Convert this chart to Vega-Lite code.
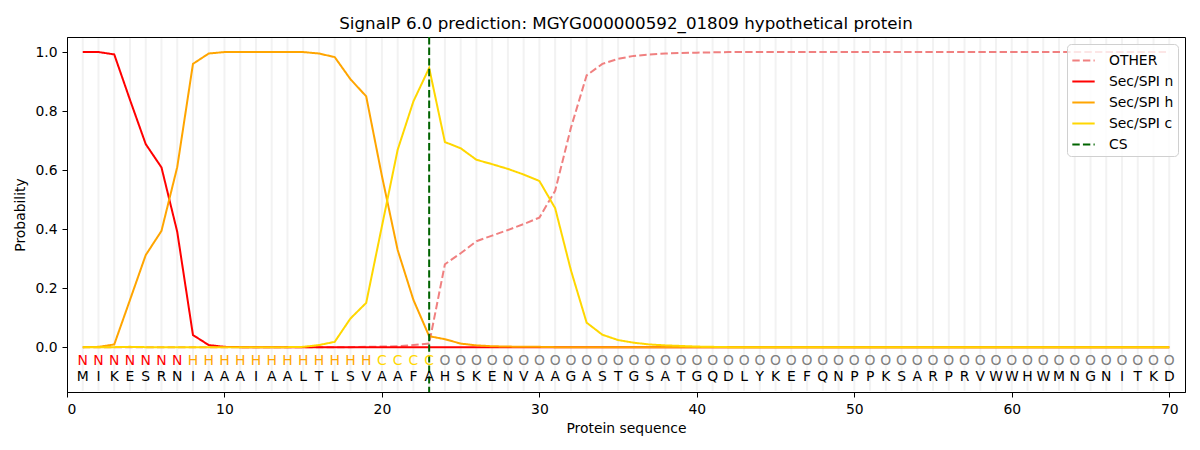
{
  "$schema": "https://vega.github.io/schema/vega-lite/v6.json",
  "width": 1118,
  "height": 355,
  "autosize": "none",
  "padding": {"left": 67, "top": 37, "right": 15, "bottom": 58},
  "title": {
    "text": "SignalP 6.0 prediction: MGYG000000592_01809 hypothetical protein",
    "font": "DejaVu Sans",
    "fontSize": 16.7,
    "fontWeight": "normal",
    "color": "black",
    "anchor": "middle",
    "offset": 3
  },
  "datasets": {
    "seq": [
      {"pos": 1, "aa": "M", "label": "N", "OTHER": 0, "Sec/SPI n": 1.0, "Sec/SPI h": 0, "Sec/SPI c": 0},
      {"pos": 2, "aa": "I", "label": "N", "OTHER": 0, "Sec/SPI n": 1.0, "Sec/SPI h": 0.001, "Sec/SPI c": 0},
      {"pos": 3, "aa": "K", "label": "N", "OTHER": 0, "Sec/SPI n": 0.992, "Sec/SPI h": 0.009, "Sec/SPI c": 0},
      {"pos": 4, "aa": "E", "label": "N", "OTHER": 0, "Sec/SPI n": 0.838, "Sec/SPI h": 0.16, "Sec/SPI c": 0.001},
      {"pos": 5, "aa": "S", "label": "N", "OTHER": 0, "Sec/SPI n": 0.688, "Sec/SPI h": 0.312, "Sec/SPI c": 0},
      {"pos": 6, "aa": "R", "label": "N", "OTHER": 0, "Sec/SPI n": 0.609, "Sec/SPI h": 0.394, "Sec/SPI c": 0},
      {"pos": 7, "aa": "N", "label": "N", "OTHER": 0, "Sec/SPI n": 0.391, "Sec/SPI h": 0.61, "Sec/SPI c": 0},
      {"pos": 8, "aa": "I", "label": "H", "OTHER": 0, "Sec/SPI n": 0.041, "Sec/SPI h": 0.96, "Sec/SPI c": 0},
      {"pos": 9, "aa": "A", "label": "H", "OTHER": 0, "Sec/SPI n": 0.007, "Sec/SPI h": 0.995, "Sec/SPI c": 0},
      {"pos": 10, "aa": "A", "label": "H", "OTHER": 0, "Sec/SPI n": 0.001, "Sec/SPI h": 1.0, "Sec/SPI c": 0},
      {"pos": 11, "aa": "A", "label": "H", "OTHER": 0, "Sec/SPI n": 0, "Sec/SPI h": 1.0, "Sec/SPI c": 0},
      {"pos": 12, "aa": "I", "label": "H", "OTHER": 0, "Sec/SPI n": 0, "Sec/SPI h": 1.0, "Sec/SPI c": 0},
      {"pos": 13, "aa": "A", "label": "H", "OTHER": 0, "Sec/SPI n": 0, "Sec/SPI h": 1.0, "Sec/SPI c": 0},
      {"pos": 14, "aa": "A", "label": "H", "OTHER": 0, "Sec/SPI n": 0, "Sec/SPI h": 1.0, "Sec/SPI c": 0},
      {"pos": 15, "aa": "L", "label": "H", "OTHER": 0, "Sec/SPI n": 0, "Sec/SPI h": 1.0, "Sec/SPI c": 0.001},
      {"pos": 16, "aa": "T", "label": "H", "OTHER": 0, "Sec/SPI n": 0, "Sec/SPI h": 0.995, "Sec/SPI c": 0.007},
      {"pos": 17, "aa": "L", "label": "H", "OTHER": 0, "Sec/SPI n": 0, "Sec/SPI h": 0.983, "Sec/SPI c": 0.018},
      {"pos": 18, "aa": "S", "label": "H", "OTHER": 0, "Sec/SPI n": 0, "Sec/SPI h": 0.908, "Sec/SPI c": 0.097},
      {"pos": 19, "aa": "V", "label": "H", "OTHER": 0.001, "Sec/SPI n": 0, "Sec/SPI h": 0.85, "Sec/SPI c": 0.15},
      {"pos": 20, "aa": "A", "label": "C", "OTHER": 0.002, "Sec/SPI n": 0, "Sec/SPI h": 0.58, "Sec/SPI c": 0.41},
      {"pos": 21, "aa": "A", "label": "C", "OTHER": 0.003, "Sec/SPI n": 0, "Sec/SPI h": 0.329, "Sec/SPI c": 0.669},
      {"pos": 22, "aa": "F", "label": "C", "OTHER": 0.007, "Sec/SPI n": 0, "Sec/SPI h": 0.16, "Sec/SPI c": 0.833},
      {"pos": 23, "aa": "A", "label": "C", "OTHER": 0.012, "Sec/SPI n": 0, "Sec/SPI h": 0.037, "Sec/SPI c": 0.946},
      {"pos": 24, "aa": "H", "label": "O", "OTHER": 0.281, "Sec/SPI n": 0, "Sec/SPI h": 0.027, "Sec/SPI c": 0.695},
      {"pos": 25, "aa": "S", "label": "O", "OTHER": 0.318, "Sec/SPI n": 0, "Sec/SPI h": 0.012, "Sec/SPI c": 0.674},
      {"pos": 26, "aa": "K", "label": "O", "OTHER": 0.359, "Sec/SPI n": 0, "Sec/SPI h": 0.006, "Sec/SPI c": 0.635},
      {"pos": 27, "aa": "E", "label": "O", "OTHER": 0.378, "Sec/SPI n": 0, "Sec/SPI h": 0.003, "Sec/SPI c": 0.62},
      {"pos": 28, "aa": "N", "label": "O", "OTHER": 0.397, "Sec/SPI n": 0, "Sec/SPI h": 0.002, "Sec/SPI c": 0.604},
      {"pos": 29, "aa": "V", "label": "O", "OTHER": 0.417, "Sec/SPI n": 0, "Sec/SPI h": 0.001, "Sec/SPI c": 0.585},
      {"pos": 30, "aa": "A", "label": "O", "OTHER": 0.439, "Sec/SPI n": 0, "Sec/SPI h": 0.001, "Sec/SPI c": 0.563},
      {"pos": 31, "aa": "A", "label": "O", "OTHER": 0.53, "Sec/SPI n": 0, "Sec/SPI h": 0, "Sec/SPI c": 0.471},
      {"pos": 32, "aa": "G", "label": "O", "OTHER": 0.743, "Sec/SPI n": 0, "Sec/SPI h": 0, "Sec/SPI c": 0.261},
      {"pos": 33, "aa": "A", "label": "O", "OTHER": 0.921, "Sec/SPI n": 0, "Sec/SPI h": 0, "Sec/SPI c": 0.083},
      {"pos": 34, "aa": "S", "label": "O", "OTHER": 0.96, "Sec/SPI n": 0, "Sec/SPI h": 0, "Sec/SPI c": 0.042},
      {"pos": 35, "aa": "T", "label": "O", "OTHER": 0.977, "Sec/SPI n": 0, "Sec/SPI h": 0, "Sec/SPI c": 0.024},
      {"pos": 36, "aa": "G", "label": "O", "OTHER": 0.987, "Sec/SPI n": 0, "Sec/SPI h": 0, "Sec/SPI c": 0.015},
      {"pos": 37, "aa": "S", "label": "O", "OTHER": 0.992, "Sec/SPI n": 0, "Sec/SPI h": 0, "Sec/SPI c": 0.009},
      {"pos": 38, "aa": "A", "label": "O", "OTHER": 0.995, "Sec/SPI n": 0, "Sec/SPI h": 0, "Sec/SPI c": 0.006},
      {"pos": 39, "aa": "T", "label": "O", "OTHER": 0.997, "Sec/SPI n": 0, "Sec/SPI h": 0, "Sec/SPI c": 0.004},
      {"pos": 40, "aa": "G", "label": "O", "OTHER": 0.998, "Sec/SPI n": 0, "Sec/SPI h": 0, "Sec/SPI c": 0.002},
      {"pos": 41, "aa": "Q", "label": "O", "OTHER": 0.999, "Sec/SPI n": 0, "Sec/SPI h": 0, "Sec/SPI c": 0.001},
      {"pos": 42, "aa": "D", "label": "O", "OTHER": 1.0, "Sec/SPI n": 0, "Sec/SPI h": 0, "Sec/SPI c": 0},
      {"pos": 43, "aa": "L", "label": "O", "OTHER": 1.0, "Sec/SPI n": 0, "Sec/SPI h": 0, "Sec/SPI c": 0},
      {"pos": 44, "aa": "Y", "label": "O", "OTHER": 1.0, "Sec/SPI n": 0, "Sec/SPI h": 0, "Sec/SPI c": 0},
      {"pos": 45, "aa": "K", "label": "O", "OTHER": 1.0, "Sec/SPI n": 0, "Sec/SPI h": 0, "Sec/SPI c": 0},
      {"pos": 46, "aa": "E", "label": "O", "OTHER": 1.0, "Sec/SPI n": 0, "Sec/SPI h": 0, "Sec/SPI c": 0},
      {"pos": 47, "aa": "F", "label": "O", "OTHER": 1.0, "Sec/SPI n": 0, "Sec/SPI h": 0, "Sec/SPI c": 0},
      {"pos": 48, "aa": "Q", "label": "O", "OTHER": 1.0, "Sec/SPI n": 0, "Sec/SPI h": 0, "Sec/SPI c": 0},
      {"pos": 49, "aa": "N", "label": "O", "OTHER": 1.0, "Sec/SPI n": 0, "Sec/SPI h": 0, "Sec/SPI c": 0},
      {"pos": 50, "aa": "P", "label": "O", "OTHER": 1.0, "Sec/SPI n": 0, "Sec/SPI h": 0, "Sec/SPI c": 0},
      {"pos": 51, "aa": "P", "label": "O", "OTHER": 1.0, "Sec/SPI n": 0, "Sec/SPI h": 0, "Sec/SPI c": 0},
      {"pos": 52, "aa": "K", "label": "O", "OTHER": 1.0, "Sec/SPI n": 0, "Sec/SPI h": 0, "Sec/SPI c": 0},
      {"pos": 53, "aa": "S", "label": "O", "OTHER": 1.0, "Sec/SPI n": 0, "Sec/SPI h": 0, "Sec/SPI c": 0},
      {"pos": 54, "aa": "A", "label": "O", "OTHER": 1.0, "Sec/SPI n": 0, "Sec/SPI h": 0, "Sec/SPI c": 0},
      {"pos": 55, "aa": "R", "label": "O", "OTHER": 1.0, "Sec/SPI n": 0, "Sec/SPI h": 0, "Sec/SPI c": 0},
      {"pos": 56, "aa": "P", "label": "O", "OTHER": 1.0, "Sec/SPI n": 0, "Sec/SPI h": 0, "Sec/SPI c": 0},
      {"pos": 57, "aa": "R", "label": "O", "OTHER": 1.0, "Sec/SPI n": 0, "Sec/SPI h": 0, "Sec/SPI c": 0},
      {"pos": 58, "aa": "V", "label": "O", "OTHER": 1.0, "Sec/SPI n": 0, "Sec/SPI h": 0, "Sec/SPI c": 0},
      {"pos": 59, "aa": "W", "label": "O", "OTHER": 1.0, "Sec/SPI n": 0, "Sec/SPI h": 0, "Sec/SPI c": 0},
      {"pos": 60, "aa": "W", "label": "O", "OTHER": 1.0, "Sec/SPI n": 0, "Sec/SPI h": 0, "Sec/SPI c": 0},
      {"pos": 61, "aa": "H", "label": "O", "OTHER": 1.0, "Sec/SPI n": 0, "Sec/SPI h": 0, "Sec/SPI c": 0},
      {"pos": 62, "aa": "W", "label": "O", "OTHER": 1.0, "Sec/SPI n": 0, "Sec/SPI h": 0, "Sec/SPI c": 0},
      {"pos": 63, "aa": "M", "label": "O", "OTHER": 1.0, "Sec/SPI n": 0, "Sec/SPI h": 0, "Sec/SPI c": 0},
      {"pos": 64, "aa": "N", "label": "O", "OTHER": 1.0, "Sec/SPI n": 0, "Sec/SPI h": 0, "Sec/SPI c": 0},
      {"pos": 65, "aa": "G", "label": "O", "OTHER": 1.0, "Sec/SPI n": 0, "Sec/SPI h": 0, "Sec/SPI c": 0},
      {"pos": 66, "aa": "N", "label": "O", "OTHER": 1.0, "Sec/SPI n": 0, "Sec/SPI h": 0, "Sec/SPI c": 0},
      {"pos": 67, "aa": "I", "label": "O", "OTHER": 1.0, "Sec/SPI n": 0, "Sec/SPI h": 0, "Sec/SPI c": 0},
      {"pos": 68, "aa": "T", "label": "O", "OTHER": 1.0, "Sec/SPI n": 0, "Sec/SPI h": 0, "Sec/SPI c": 0},
      {"pos": 69, "aa": "K", "label": "O", "OTHER": 1.0, "Sec/SPI n": 0, "Sec/SPI h": 0, "Sec/SPI c": 0},
      {"pos": 70, "aa": "D", "label": "O", "OTHER": 1.0, "Sec/SPI n": 0, "Sec/SPI h": 0, "Sec/SPI c": 0}
    ]
  },
  "data": {"name": "seq"},
  "encoding": {
    "x": {
      "field": "pos",
      "type": "quantitative",
      "scale": {"domain": [0, 71], "nice": false, "zero": false},
      "axis": {
        "title": "Protein sequence",
        "values": [0, 10, 20, 30, 40, 50, 60, 70],
        "format": "d",
        "grid": false,
        "titlePadding": 6
      }
    }
  },
  "layer": [
    {
      "mark": {"type": "rule", "color": "#f2f2f2", "strokeWidth": 2},
      "encoding": {
        "y": {"datum": -0.148, "type": "quantitative"},
        "y2": {"datum": 1.047}
      }
    },
    {
      "transform": [
        {"fold": ["OTHER", "Sec/SPI n", "Sec/SPI h", "Sec/SPI c"], "as": ["series", "prob"]}
      ],
      "mark": {"type": "line", "strokeWidth": 2},
      "encoding": {
        "y": {
          "field": "prob",
          "type": "quantitative",
          "scale": {"domain": [-0.152, 1.051], "nice": false, "zero": false},
          "axis": {
            "title": "Probability",
            "values": [0, 0.2, 0.4, 0.6, 0.8, 1.0],
            "format": ".1f",
            "grid": false,
            "titlePadding": 7
          }
        },
        "color": {
          "field": "series",
          "type": "nominal",
          "scale": {
            "domain": ["OTHER", "Sec/SPI n", "Sec/SPI h", "Sec/SPI c", "CS"],
            "range": ["#f08080", "#ff0000", "#ffa500", "#ffd700", "#006400"]
          },
          "legend": {"title": null}
        },
        "strokeDash": {
          "field": "series",
          "type": "nominal",
          "scale": {
            "domain": ["OTHER", "Sec/SPI n", "Sec/SPI h", "Sec/SPI c", "CS"],
            "range": [[7.4, 3.2], [1, 0], [1, 0], [1, 0], [7.4, 3.2]]
          },
          "legend": {"title": null}
        }
      }
    },
    {
      "data": {"values": [{"series": "CS", "pos": 23}]},
      "mark": {"type": "rule", "strokeWidth": 2},
      "encoding": {
        "color": {"field": "series", "type": "nominal"},
        "strokeDash": {"field": "series", "type": "nominal"}
      }
    },
    {
      "mark": {"type": "text", "font": "DejaVu Sans", "fontSize": 13.9, "baseline": "middle", "align": "center"},
      "encoding": {
        "y": {"datum": -0.047, "type": "quantitative"},
        "text": {"field": "label"},
        "color": {
          "condition": [
            {"test": "datum.label === 'N'", "value": "#ff0000"},
            {"test": "datum.label === 'H'", "value": "#ffa500"},
            {"test": "datum.label === 'C'", "value": "#ffd700"}
          ],
          "value": "#808080"
        }
      }
    },
    {
      "mark": {"type": "text", "font": "DejaVu Sans", "fontSize": 13.9, "baseline": "middle", "align": "center", "color": "black"},
      "encoding": {
        "y": {"datum": -0.1, "type": "quantitative"},
        "text": {"field": "aa"}
      }
    }
  ],
  "config": {
    "font": "DejaVu Sans",
    "view": {"stroke": "black", "strokeWidth": 1},
    "axis": {
      "domainColor": "black",
      "tickColor": "black",
      "labelColor": "black",
      "titleColor": "black",
      "labelFont": "DejaVu Sans",
      "titleFont": "DejaVu Sans",
      "labelFontSize": 13.9,
      "titleFontSize": 13.9,
      "titleFontWeight": "normal",
      "tickSize": 5,
      "labelPadding": 5
    },
    "legend": {
      "orient": "top-right",
      "offset": 7,
      "padding": 4,
      "fillColor": "rgba(255,255,255,0.8)",
      "strokeColor": "#d0d0d0",
      "cornerRadius": 4,
      "symbolType": "M-1,0H1",
      "symbolSize": 500,
      "symbolStrokeWidth": 2,
      "labelFont": "DejaVu Sans",
      "labelFontSize": 13.9,
      "labelColor": "black",
      "labelOffset": 13,
      "rowPadding": 1
    }
  }
}
